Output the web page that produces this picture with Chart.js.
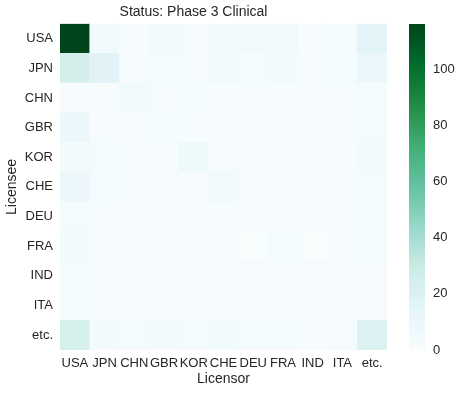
<!DOCTYPE html>
<html>
<head>
<meta charset="utf-8">
<script src="https://cdn.jsdelivr.net/npm/chart.js@4"></script>
<style>
  html, body { margin: 0; padding: 0; background: #fff; }
  #wrap { position: relative; width: 460px; height: 394px; }
  #chart { position: absolute; left: 0; top: 0; }
  #bar { position: absolute; left: 400px; top: 0; }
</style>
</head>
<body>
<div id="wrap">
  <canvas id="chart" width="460" height="394"></canvas>
  <canvas id="bar" width="60" height="394"></canvas>
</div>
<script>
const licensors = ['USA', 'JPN', 'CHN', 'GBR', 'KOR', 'CHE', 'DEU', 'FRA', 'IND', 'ITA', 'etc.'];
const licensees = ['USA', 'JPN', 'CHN', 'GBR', 'KOR', 'CHE', 'DEU', 'FRA', 'IND', 'ITA', 'etc.'];

// rows = licensee, columns = licensor
const counts = [
    [116, 5, 1, 5, 2, 4, 6, 6, 1, 3, 16],
    [25, 17, 1, 3, 2, 4, 3, 4, 1, 3, 10],
    [1, 1, 5, 2, 3, 1, 1, 1, 1, 1, 3],
    [10, 1, 1, 3, 1, 2, 2, 1, 1, 2, 3],
    [4, 3, 1, 1, 7, 2, 2, 1, 1, 1, 4],
    [10, 3, 1, 2, 1, 6, 2, 1, 1, 1, 3],
    [3, 1, 1, 2, 1, 1, 2, 1, 1, 2, 3],
    [5, 1, 1, 2, 2, 2, 0, 3, 0, 1, 3],
    [3, 1, 1, 2, 1, 1, 2, 1, 2, 1, 2],
    [3, 1, 1, 1, 1, 1, 1, 1, 1, 2, 2],
    [24, 4, 3, 4, 3, 5, 3, 3, 1, 2, 20]
];

const vmax = 116;
const colorbarTicks = [0, 20, 40, 60, 80, 100];
const bugn = ['#f7fcfd', '#e5f5f9', '#ccece6', '#99d8c9', '#66c2a4', '#41ae76', '#238b45', '#006d2c', '#00441b'];

const textColor = '#262626';
const fontFamily = '"Liberation Sans", Arial, sans-serif';

function hexToRgb(hex) {
    const n = parseInt(hex.slice(1), 16);
    return [(n >> 16) & 255, (n >> 8) & 255, n & 255];
}

function colorFor(value) {
    let t = Math.max(0, Math.min(1, value / vmax)) * (bugn.length - 1);
    const i = Math.min(Math.floor(t), bugn.length - 2);
    const f = t - i;
    const a = hexToRgb(bugn[i]);
    const b = hexToRgb(bugn[i + 1]);
    const c = a.map((v, k) => Math.round(v + (b[k] - v) * f));
    return `rgb(${c[0]},${c[1]},${c[2]})`;
}

// one stacked dataset per licensee row, bottom row first
const datasets = [];
for (let r = licensees.length - 1; r >= 0; r--) {
    datasets.push({
        label: licensees[r],
        data: licensors.map(() => 1),
        backgroundColor: counts[r].map(v => colorFor(v)),
        borderWidth: 0,
        barPercentage: 1,
        categoryPercentage: 1
    });
}

new Chart(document.getElementById('chart'), {
    type: 'bar',
    data: { labels: licensors, datasets },
    options: {
        responsive: false,
        animation: false,
        layout: { padding: { left: 0, right: 73, top: 0, bottom: 0 } },
        plugins: {
            legend: { display: false },
            tooltip: { enabled: false },
            title: {
                display: true,
                text: 'Status: Phase 3 Clinical',
                color: textColor,
                font: { family: fontFamily, size: 14, weight: 'normal' },
                padding: { top: 4, bottom: 3 }
            }
        },
        scales: {
            x: {
                stacked: true,
                grid: { display: false, drawTicks: false },
                border: { display: false },
                ticks: { color: textColor, font: { family: fontFamily, size: 13 }, padding: 6, maxRotation: 0, autoSkip: false },
                title: { display: true, text: 'Licensor', color: textColor, font: { family: fontFamily, size: 14 }, padding: { top: 2, bottom: 6 } },
                afterFit: scale => { scale.height = 44; }
            },
            y: {
                stacked: true,
                min: 0,
                max: licensees.length,
                grid: { display: false, drawTicks: false },
                border: { display: false },
                afterBuildTicks: scale => {
                    scale.ticks = licensees.map((_, i) => ({ value: i + 0.5 }));
                },
                ticks: {
                    color: textColor,
                    font: { family: fontFamily, size: 13 },
                    padding: 7,
                    callback: value => licensees[licensees.length - 1 - Math.floor(value)]
                },
                title: { display: true, text: 'Licensee', color: textColor, font: { family: fontFamily, size: 14 }, padding: { top: 4, bottom: 4 } },
                afterFit: scale => { scale.width = 60; }
            }
        }
    }
});

// colour bar
new Chart(document.getElementById('bar'), {
    type: 'bar',
    data: {
        labels: [''],
        datasets: [{
            data: [[0, vmax]],
            borderWidth: 0,
            barPercentage: 1,
            categoryPercentage: 1,
            backgroundColor: context => {
                const area = context.chart.chartArea;
                if (!area) return bugn[0];
                const g = context.chart.ctx.createLinearGradient(0, area.bottom, 0, area.top);
                bugn.forEach((c, i) => g.addColorStop(i / (bugn.length - 1), c));
                return g;
            }
        }]
    },
    options: {
        responsive: false,
        animation: false,
        layout: { padding: { left: 9, right: 0, top: 24, bottom: 44 } },
        plugins: { legend: { display: false }, tooltip: { enabled: false } },
        scales: {
            x: { display: false },
            y: {
                position: 'right',
                min: 0,
                max: vmax,
                grid: { display: false, drawTicks: false },
                border: { display: false },
                afterBuildTicks: scale => {
                    scale.ticks = colorbarTicks.map(v => ({ value: v }));
                },
                ticks: { color: textColor, font: { family: fontFamily, size: 13 }, padding: 8 },
                afterFit: scale => { scale.width = 35; }
            }
        }
    }
});
</script>
</body>
</html>
